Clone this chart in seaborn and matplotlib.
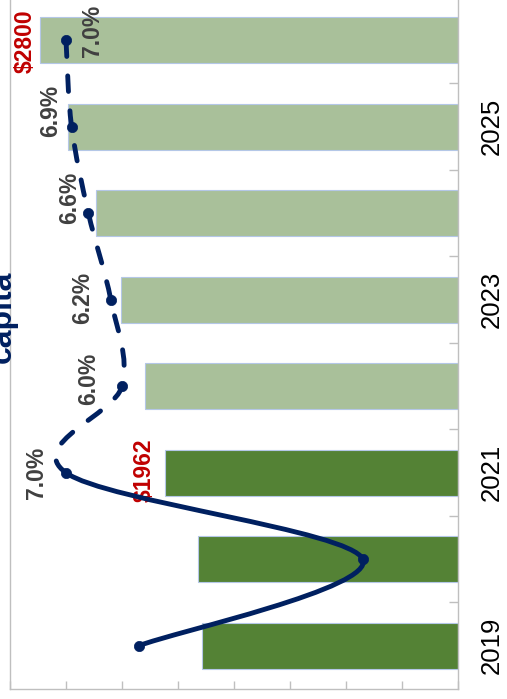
import numpy as np
import pandas as pd
import matplotlib
matplotlib.use('Agg')
import matplotlib.pyplot as plt
import seaborn as sns
from matplotlib.path import Path
from matplotlib.patches import PathPatch

# ---------------- data ----------------
years = ['2019', '2020', '2021', '2022', '2023', '2024', '2025', '2026']
spend = [1714, 1741, 1962, 2096, 2257, 2424, 2612, 2800]
growth = [5.7, 1.7, 7.0, 6.0, 6.2, 6.6, 6.9, 7.0]
growth_labels = ['', '', '7.0%', '6.0%', '6.2%', '6.6%', '6.9%', '7.0%']
spend_labels = ['', '', '$1962', '', '', '', '', '$2800']
year_tick_labels = ['2019', '2021', '2023', '2025']
title_text = 'capita'
actual_years = ['2019', '2020', '2021']

# ---------------- style ----------------
NAVY = '#002060'
DARK_GREEN = '#548235'
LIGHT_GREEN = '#A9C09A'
EDGE = '#B4C7E7'
AXIS_GRAY = '#BFBFBF'
RED = '#C00000'
LABEL_GRAY = '#404040'

sns.set_theme(style='white')
plt.rcParams['font.family'] = ['Liberation Sans', 'DejaVu Sans']

W, H = 507, 699
fig = plt.figure(figsize=(W / 100, H / 100), dpi=100)
ax = fig.add_axes([10 / W, 10 / H, 448 / W, 689 / H])

order = years[::-1]
df = pd.DataFrame({'year': years, 'spend': spend})
palette = {y: (DARK_GREEN if y in actual_years else LIGHT_GREEN) for y in years}

sns.barplot(data=df, x='spend', y='year', hue='year', order=order, hue_order=order,
            palette=palette, legend=False, width=0.53, saturation=1,
            edgecolor=EDGE, linewidth=0.8, orient='h', ax=ax)

ax.set_xlim(3000, 0)
ax.set_xlabel('')
ax.set_ylabel('')

# spines
for side in ['left', 'bottom', 'right']:
    ax.spines[side].set_visible(True)
    ax.spines[side].set_color(AXIS_GRAY)
    ax.spines[side].set_linewidth(1.0)
ax.spines['top'].set_visible(False)

# bottom ticks (value axis, no labels)
ax.set_xticks(np.arange(0, 3001, 375))
ax.set_xticklabels([])
ax.tick_params(axis='x', which='major', direction='in', length=6, width=1,
               color=AXIS_GRAY, bottom=True, top=False)

# category axis on the right
pos = [order.index(y) for y in years]
ax.yaxis.tick_right()
ax.set_yticks([order.index(y) for y in year_tick_labels])
ax.set_yticklabels(year_tick_labels, rotation=90, va='center', fontsize=18.5, color='black')
ax.set_yticks(np.arange(0.5, len(years) - 0.5, 1.0), minor=True)
ax.tick_params(axis='y', which='major', length=0, pad=16, right=True, left=False)
ax.tick_params(axis='y', which='minor', direction='in', length=6.5, width=1,
               color=AXIS_GRAY, right=True, left=False)

# spend labels
spend_offsets = {'$2800': (-2.5, -1.0), '$1962': (-6.5, 1.8)}
for v, p, lab in zip(spend, pos, spend_labels):
    if lab:
        ax.annotate(lab, xy=(v, p), xytext=spend_offsets[lab], textcoords='offset points',
                    rotation=90, ha='right', va='center', fontsize=16.5, fontweight='bold',
                    color=RED)

# ---------------- growth line (secondary scale) ----------------
ax2 = ax.twiny()
ax2.set_xlim(8, 0)
for s in ax2.spines.values():
    s.set_visible(False)
ax2.tick_params(top=False, labeltop=False, bottom=False, labelbottom=False)

pts = np.column_stack([growth, pos]).astype(float)
n = len(pts)


def bezier_path(i0, i1):
    verts = [pts[i0]]
    codes = [Path.MOVETO]
    for i in range(i0, i1):
        p0 = pts[max(i - 1, 0)]
        p1 = pts[i]
        p2 = pts[i + 1]
        p3 = pts[min(i + 2, n - 1)]
        c1 = p1 + (p2 - p0) / 6.0
        c2 = p2 - (p3 - p1) / 6.0
        verts += [c1, c2, p2]
        codes += [Path.CURVE4] * 3
    return Path(verts, codes)


solid = PathPatch(bezier_path(0, 2), facecolor='none', edgecolor=NAVY, linewidth=3.5,
                  capstyle='round', joinstyle='round', zorder=3)
dashed = PathPatch(bezier_path(2, n - 1), facecolor='none', edgecolor=NAVY, linewidth=3.5,
                   linestyle=(0, (3.2, 4.0)), capstyle='round', joinstyle='round', zorder=3)
ax2.add_patch(solid)
ax2.add_patch(dashed)

sns.scatterplot(x=growth, y=pos, ax=ax2, color=NAVY, s=55, edgecolor=NAVY,
                linewidth=0.5, zorder=4, legend=False)

growth_offsets = [None, None, (-21.2, 0.0), (-23.8, 5.0), (-20.2, 1.4),
                  (-13.3, 10.8), (-15.1, 11.5), (19.4, 6.5)]
for g, p, lab, off in zip(growth, pos, growth_labels, growth_offsets):
    if lab:
        ax2.annotate(lab, xy=(g, p), xytext=off, textcoords='offset points',
                     rotation=90, ha='center', va='center', fontsize=16.5,
                     fontweight='bold', color=LABEL_GRAY, zorder=5)

ax.set_ylim(7.5, -0.465)
ax2.set_ylim(7.5, -0.465)
ax2.set_xlim(8, 0)

# title (partially outside the figure, as in the reference)
fig.text(18 / W, 1 - 317 / H, title_text, rotation=90, ha='right', va='center',
         fontsize=23, fontweight='bold', color=NAVY)

fig.savefig('out.png', dpi=100)
